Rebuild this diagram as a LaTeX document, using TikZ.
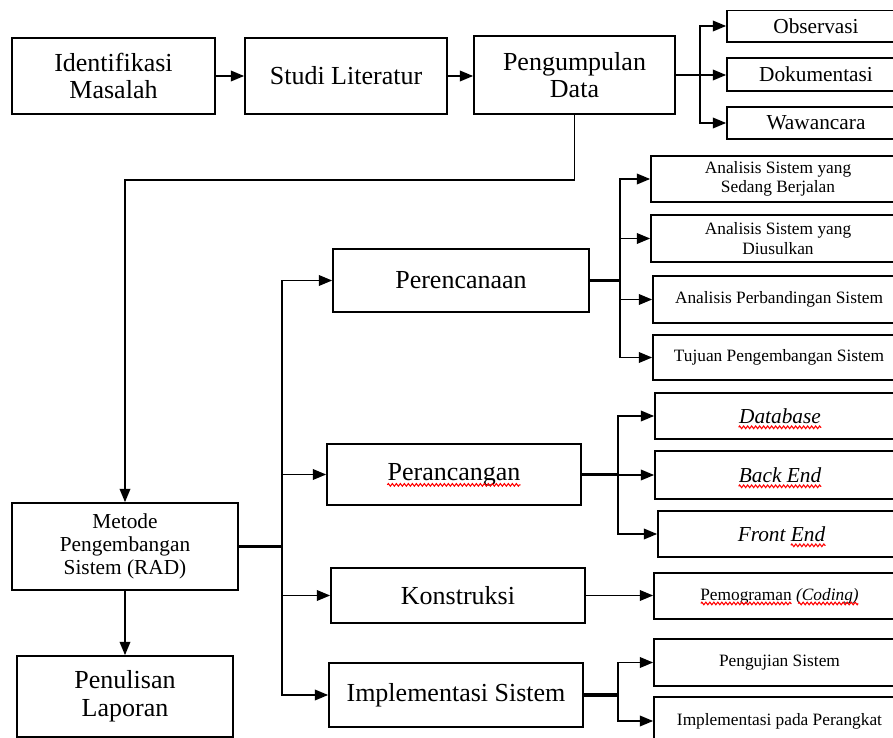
\documentclass[tikz,border=0pt]{standalone}
\usepackage{fontspec}
\setmainfont{Liberation Serif}
\usetikzlibrary{arrows.meta,decorations.pathmorphing}

\tikzset{
  box/.style={draw, line width=1.3pt, inner sep=0pt, align=center},
  big/.style={font=\fontsize{19.5}{20}\selectfont},
  mid/.style={font=\fontsize{16}{17.5}\selectfont},
  small/.style={font=\fontsize{13}{14.5}\selectfont},
  trunk/.style={line width=2.6pt},
  spell/.style={draw=red, line width=0.8pt, decorate,
    decoration={zigzag, segment length=3pt, amplitude=1pt}},
}

\begin{document}
\begin{tikzpicture}[x=0.75pt,y=-0.75pt,line width=1.2pt,>={Triangle[length=10pt,width=8pt]}]
  \useasboundingbox (0,0) rectangle (893,738);
  \clip (0,11) rectangle (893,738);

  % top row
  \node[box,big,minimum width=152.25pt,minimum height=57pt] (identifikasi) at (113.5,76) {Identifikasi\\Masalah};
  \node[box,big,minimum width=151.5pt,minimum height=57pt] (studi) at (346,76) {Studi Literatur};
  \node[box,big,minimum width=150.75pt,minimum height=58.5pt] (pengumpulan) at (574.5,75) {Pengumpulan\\Data};

  \node[box,mid,minimum width=133.5pt,minimum height=24pt] (observasi) at (816,26) {Observasi};
  \node[box,mid,minimum width=133.5pt,minimum height=24.75pt] (dokumentasi) at (816,74.5) {Dokumentasi};
  \node[box,mid,minimum width=133.5pt,minimum height=24pt] (wawancara) at (816,123) {Wawancara};

  % left column
  \node[box,mid,minimum width=169.5pt,minimum height=65.25pt] (metode) at (125,546.5) {Metode\\Pengembangan\\Sistem (RAD)};
  \node[box,big,minimum width=162pt,minimum height=60.75pt,font=\fontsize{19.5}{21}\selectfont] (penulisan) at (125,696.5) {Penulisan\\Laporan};

  % RAD stages
  \node[box,big,minimum width=192pt,minimum height=47.25pt] (perencanaan) at (461,280.5) {Perencanaan};
  \node[box,big,minimum width=190.5pt,minimum height=45.75pt] (perancangan) at (454,474.5) {Perancangan};
  \node[box,big,minimum width=190.5pt,minimum height=41.25pt] (konstruksi) at (458,595.5) {Konstruksi};
  \node[box,big,minimum width=190.5pt,minimum height=48pt] (implementasi) at (456,695) {Implementasi Sistem};

  % right column
  \node[box,small,minimum width=190.5pt,minimum height=34.5pt] (berjalan) at (778,179) {Analisis Sistem yang\\Sedang Berjalan};
  \node[box,small,minimum width=190.5pt,minimum height=35.25pt] (diusulkan) at (778,238.5) {Analisis Sistem yang\\Diusulkan};
  \node[box,small,minimum width=189pt,minimum height=35.25pt] (perbandingan) at (779,299.5) {Analisis Perbandingan Sistem};
  \node[box,small,minimum width=189pt,minimum height=33.75pt] (tujuan) at (779,357.5) {Tujuan Pengembangan Sistem};

  \node[box,mid,minimum width=187.5pt,minimum height=34.5pt] (database) at (780,416) {\itshape Database};
  \node[box,mid,minimum width=187.5pt,minimum height=36pt] (backend) at (780,475) {\itshape Back End};
  \node[box,mid,minimum width=185.25pt,minimum height=34.5pt] (frontend) at (781.5,534) {\itshape Front End};

  \node[box,small,minimum width=188.25pt,minimum height=34.5pt] (pemograman) at (779.5,596) {Pemograman \textit{(Coding)}};
  \node[box,small,minimum width=188.25pt,minimum height=35.25pt] (pengujian) at (779.5,662.5) {Pengujian Sistem};
  \node[box,small,minimum width=188.25pt,minimum height=36pt] (perangkat) at (779.5,721) {Implementasi pada Perangkat};

  % spell-check waves under the words
  \draw[spell] ([xshift=-50pt,yshift=-3.5pt]perancangan.base) -- ([xshift=50pt,yshift=-3.5pt]perancangan.base);
  \draw[spell] ([xshift=-31pt,yshift=-3pt]database.base) -- ([xshift=31pt,yshift=-3pt]database.base);
  \draw[spell] ([xshift=-31pt,yshift=-3pt]backend.base) -- ([xshift=31pt,yshift=-3pt]backend.base);
  \draw[spell] ([xshift=7pt,yshift=-3pt]frontend.base) -- ([xshift=33pt,yshift=-3pt]frontend.base);
  \draw[spell] ([xshift=-59pt,yshift=-2.5pt]pemograman.base) -- ([xshift=9pt,yshift=-2.5pt]pemograman.base);
  \draw[spell] ([xshift=14pt,yshift=-2.5pt]pemograman.base) -- ([xshift=59pt,yshift=-2.5pt]pemograman.base);

  % junction points
  \coordinate (jdata) at (700,75);
  \coordinate (bend) at (0,180);
  \coordinate (jrad) at (282,546.5);
  \coordinate (jrenc) at (620,280.5);
  \coordinate (jranc) at (618,474.5);
  \coordinate (jimpl) at (618,695);

  % top flow
  \draw[->] (identifikasi) -- (studi);
  \draw[->] (studi.east) -- (studi.east -| pengumpulan.west);
  \draw (pengumpulan.east) -- (jdata);
  \draw[->] (jdata) |- (observasi);
  \draw[->] (jdata) -- (dokumentasi.west |- jdata);
  \draw[->] (jdata) |- (wawancara);
  \draw[->] (pengumpulan.south) |- (bend -| metode.north) -- (metode.north);
  \draw[->] (metode) -- (penulisan);

  % RAD branches
  \draw[trunk] (metode.east) -- (jrad);
  \draw[->] (jrad) |- (perencanaan);
  \draw[->] (jrad) |- (perancangan);
  \draw[->] (jrad) |- (konstruksi);
  \draw[->] (jrad) |- (implementasi);

  \draw[trunk] (perencanaan.east) -- (jrenc);
  \draw[->] (jrenc) |- (berjalan);
  \draw[->] (jrenc) |- (diusulkan);
  \draw[->] (jrenc) |- (perbandingan);
  \draw[->] (jrenc) |- (tujuan);

  \draw[trunk] (perancangan.east) -- (jranc);
  \draw[->] (jranc) |- (database);
  \draw[->] (jranc) |- (backend);
  \draw[->] (jranc) |- (frontend);

  \draw[->] (konstruksi.east) -- (konstruksi.east -| pemograman.west);

  \draw[trunk] (implementasi.east) -- (jimpl);
  \draw[->] (jimpl) |- (pengujian);
  \draw[->] (jimpl) |- (perangkat);
\end{tikzpicture}
\end{document}
